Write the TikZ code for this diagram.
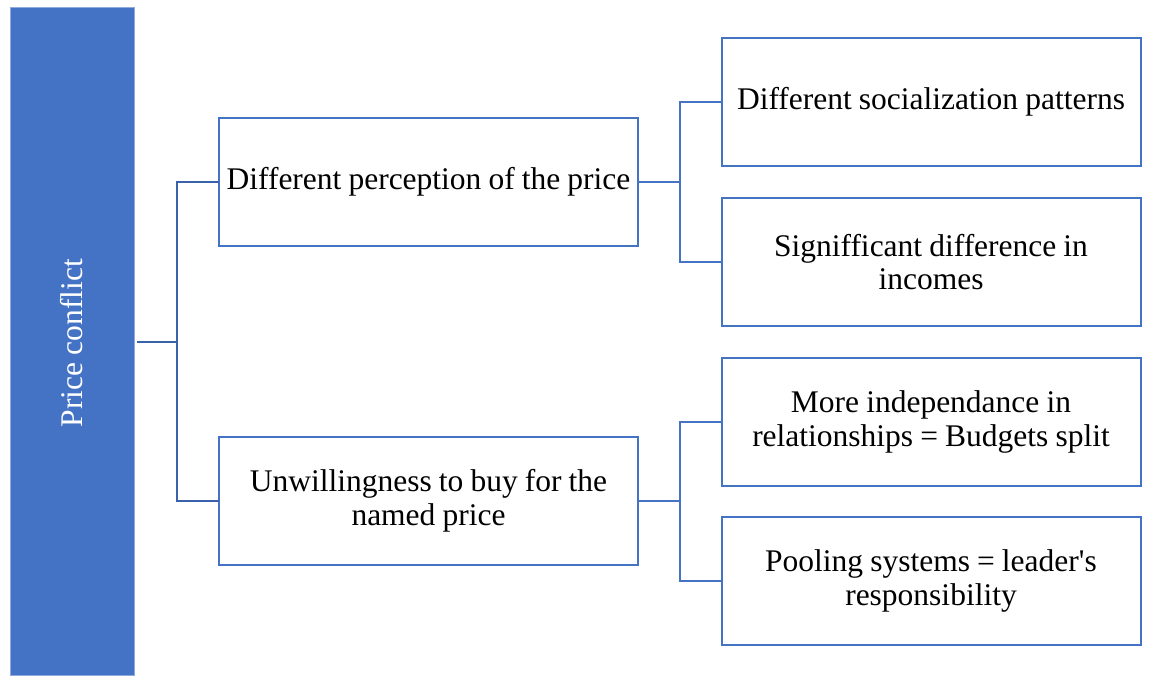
\documentclass[tikz,border=0pt]{standalone}
\usepackage{fontspec}
\setmainfont{Liberation Serif}[WordSpace={0.9,0,0}]
\definecolor{accent}{HTML}{4472C4}
\definecolor{accentdark}{HTML}{3A62AC}
\definecolor{accentedge}{HTML}{8FAADC}
\begin{document}
\begin{tikzpicture}[x=1pt,y=-1pt,
  every node/.style={inner sep=0pt, outer sep=0pt},
  txt/.style={font=\fontsize{31.5}{33.5}\selectfont, align=center},
  bar/.style={fill=accent, draw=accentedge, line width=0.8pt, minimum width=124pt, minimum height=668pt},
  itembox/.style={txt, draw=accent, line width=2pt, fill=white, minimum width=419pt, minimum height=128pt},
  rootlink/.style={draw=accentdark, line width=2.2pt},
  sublink/.style={draw=accent, line width=2pt}]
\useasboundingbox (0,0) rectangle (1151,675);

% vertical title bar
\node[bar] (bar) at (72,341) {};
\node[txt, text=white, rotate=90] (title) at (72,343) {Price conflict};

% middle level
\node[itembox] (perc) at (428.5,182) {Different perception of the price};
\node[itembox] (unw) at (428.5,501) {Unwillingness to buy for the\\named price};

% right level
\node[itembox] (soc) at (931,102) {Different socialization patterns};
\node[itembox] (inc) at (931,262) {Signifficant difference in\\incomes};
\node[itembox] (ind) at (931,422) {More independance in\\relationships = Budgets split};
\node[itembox] (pool) at (931,581) {Pooling systems = leader\textquotesingle s\\responsibility};

% branch points
\coordinate (j0) at (177,342);
\coordinate (j1) at (680,182);
\coordinate (j2) at (680,501);

% links from the title bar
\draw[rootlink] ([xshift=3pt]bar.east |- j0) -- (j0);
\draw[rootlink] (perc.west) -| (j0) |- (unw.west);

% links to the right level
\draw[sublink] (perc.east) -- (j1);
\draw[sublink] (soc.west) -| (j1) |- (inc.west);
\draw[sublink] (unw.east) -- (j2);
\draw[sublink] (ind.west) -| (j2) |- (pool.west);
\end{tikzpicture}
\end{document}
